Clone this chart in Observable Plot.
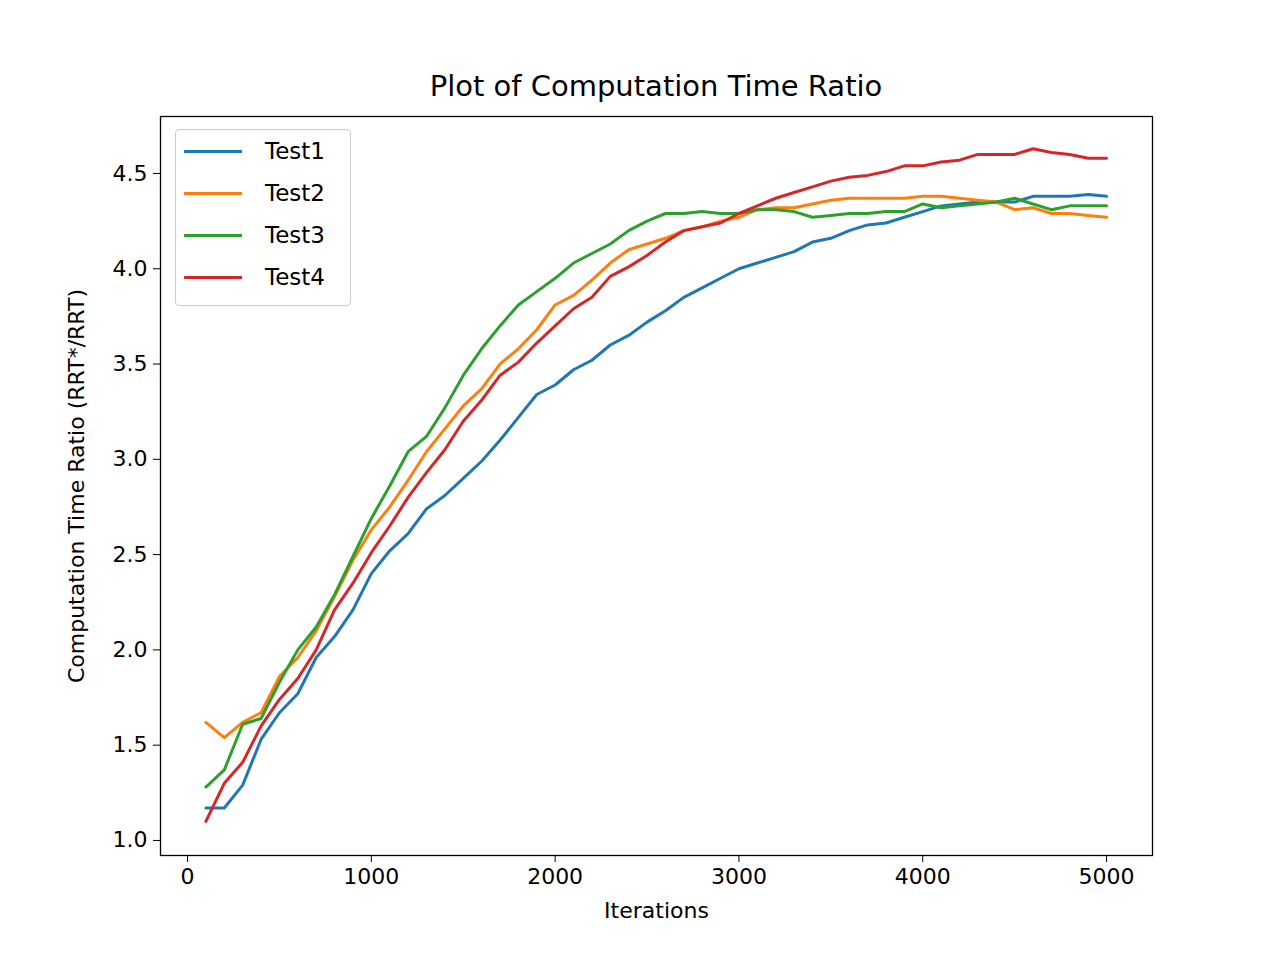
<!DOCTYPE html>
<html><head>
<meta charset="utf-8">
<script src="https://cdn.jsdelivr.net/npm/d3@7"></script>
<script src="https://cdn.jsdelivr.net/npm/@observablehq/plot@0.6"></script>
<style>
body{margin:0;background:#fff;font-family:"DejaVu Sans",sans-serif;}
#wrap{position:relative;width:1280px;height:960px;}
#title{position:absolute;top:69px;left:0;width:1312px;text-align:center;font-size:29px;}
#legend{position:absolute;left:175px;top:129px;width:176px;height:177px;border:1.5px solid #ccc;border-radius:4px;background:#fff;box-sizing:border-box;font-size:23px;}
.li{position:absolute;left:8px;display:flex;align-items:center;}
.li span.sw{display:inline-block;width:58px;height:3px;margin-right:23px;}
</style></head>
<body><div id="wrap"><div id="chart"></div><div id="title">Plot of Computation Time Ratio</div><div id="legend"></div></div>
<script>
const iterations = d3.range(100, 5001, 100);
const seriesNames = ["Test1", "Test2", "Test3", "Test4"];
const seriesColors = ["#1f77b4", "#ff7f0e", "#2ca02c", "#d62728"];
const xTicks = [0, 1000, 2000, 3000, 4000, 5000];
const yTicks = [1, 1.5, 2, 2.5, 3, 3.5, 4, 4.5];
const test1 = [1.17,1.17,1.29,1.53,1.67,1.77,1.96,2.07,2.21,2.40,2.52,2.61,2.74,2.81,2.90,2.99,3.10,3.22,3.34,3.39,3.47,3.52,3.60,3.65,3.72,3.78,3.85,3.90,3.95,4.00,4.03,4.06,4.09,4.14,4.16,4.20,4.23,4.24,4.27,4.30,4.33,4.34,4.35,4.35,4.35,4.38,4.38,4.38,4.39,4.38];
const test2 = [1.62,1.54,1.62,1.67,1.86,1.96,2.10,2.28,2.47,2.63,2.75,2.89,3.04,3.16,3.28,3.37,3.50,3.58,3.68,3.81,3.86,3.94,4.03,4.10,4.13,4.16,4.20,4.22,4.25,4.27,4.31,4.32,4.32,4.34,4.36,4.37,4.37,4.37,4.37,4.38,4.38,4.37,4.36,4.35,4.31,4.32,4.29,4.29,4.28,4.27];
const test3 = [1.28,1.37,1.61,1.64,1.83,2.00,2.12,2.29,2.49,2.69,2.86,3.04,3.12,3.27,3.44,3.58,3.70,3.81,3.88,3.95,4.03,4.08,4.13,4.20,4.25,4.29,4.29,4.30,4.29,4.29,4.31,4.31,4.30,4.27,4.28,4.29,4.29,4.30,4.30,4.34,4.32,4.33,4.34,4.35,4.37,4.34,4.31,4.33,4.33,4.33];
const test4 = [1.10,1.30,1.41,1.60,1.74,1.85,2.00,2.21,2.35,2.51,2.65,2.80,2.93,3.05,3.20,3.31,3.44,3.51,3.61,3.70,3.79,3.85,3.96,4.01,4.07,4.14,4.20,4.22,4.24,4.29,4.33,4.37,4.40,4.43,4.46,4.48,4.49,4.51,4.54,4.54,4.56,4.57,4.60,4.60,4.60,4.63,4.61,4.60,4.58,4.58];
const allSeries = [test1, test2, test3, test4];

const rows = allSeries.flatMap((vals, s) => vals.map((v, i) => ({it: iterations[i], v, name: seriesNames[s]})));

const chart = Plot.plot({
  width: 1280, height: 960,
  marginLeft: 160, marginRight: 128, marginTop: 116, marginBottom: 105,
  style: {fontSize: "20px", fontFamily: "DejaVu Sans, sans-serif", color: "#000", background: "#fff"},
  x: {domain: [-147, 5250]},
  y: {domain: [0.921, 4.799]},
  color: {domain: seriesNames, range: seriesColors},
  marks: [
    Plot.frame({stroke: "#000", strokeWidth: 1.3}),
    Plot.axisX({ticks: xTicks, tickFormat: d => String(d), tickSize: 7, tickPadding: 6, fontSize: 22,
      label: "Iterations", labelAnchor: "center", labelArrow: "none", labelOffset: 62}),
    Plot.axisY({ticks: yTicks, tickFormat: d3.format(".1f"), tickSize: 7, tickPadding: 6, fontSize: 22,
      label: "Computation Time Ratio (RRT*/RRT)", labelAnchor: "center", labelArrow: "none", labelOffset: 92}),
    Plot.line(rows, {x: "it", y: "v", z: "name", stroke: "name", strokeWidth: 3})
  ]
});
document.getElementById("chart").append(chart);

const leg = document.getElementById("legend");
seriesNames.forEach((n, i) => {
  const d = document.createElement("div");
  d.className = "li";
  d.style.top = (8 + i * 42) + "px";
  d.innerHTML = `<span class="sw" style="background:${seriesColors[i]}"></span>${n}`;
  leg.append(d);
});
</script></body></html>
